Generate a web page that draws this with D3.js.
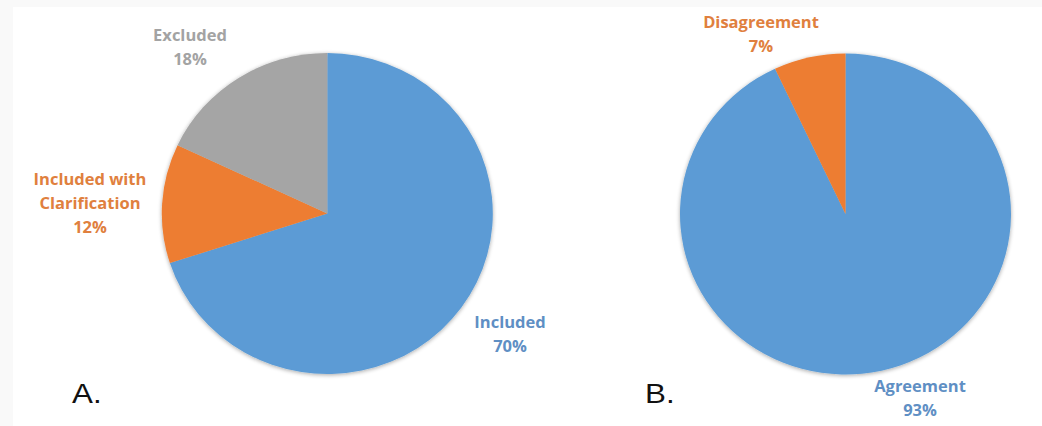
<!DOCTYPE html>
<html>
<head>
<meta charset="utf-8">
<script src="https://cdn.jsdelivr.net/npm/d3@7"></script>
<style>
  html, body { margin: 0; padding: 0; background: #ffffff; }
  svg { display: block; }
</style>
</head>
<body>
<div id="chart"></div>
<script>
// ---- Data ----
const pieACategories = ["Included", "Included with Clarification", "Excluded"];
const pieAValues = [70, 12, 18];
const pieBCategories = ["Agreement", "Disagreement"];
const pieBValues = [93, 7];
const panelLetters = ["A.", "B."];

// ---- Style / layout ----
const W = 1042, H = 426;
const colorMap = {
  "Included": "#5b9bd5", "Agreement": "#5b9bd5",
  "Included with Clarification": "#ed7d31", "Disagreement": "#ed7d31",
  "Excluded": "#a5a5a5"
};
const textColorMap = {
  "Included": "#5f8fc4", "Agreement": "#5f8fc4",
  "Included with Clarification": "#e0803e", "Disagreement": "#e0803e",
  "Excluded": "#a3a3a3"
};
// label anchor (center x, baseline of first line), and line breaks
const labelLayoutA = {
  "Included": { x: 510, y: 328, lines: ["Included"] },
  "Included with Clarification": { x: 90, y: 185, lines: ["Included with", "Clarification"] },
  "Excluded": { x: 190, y: 41, lines: ["Excluded"] }
};
const labelLayoutB = {
  "Agreement": { x: 920, y: 392, lines: ["Agreement"] },
  "Disagreement": { x: 761, y: 28, lines: ["Disagreement"] }
};

const svg = d3.select("#chart").append("svg")
  .attr("width", W).attr("height", H);

// background frame
svg.append("rect").attr("width", W).attr("height", H).attr("fill", "#f9f9f9");
svg.append("rect").attr("x", 13).attr("y", 7).attr("width", W - 13).attr("height", H - 7).attr("fill", "#ffffff");

const defs = svg.append("defs");
const f = defs.append("filter").attr("id", "soft").attr("x", "-10%").attr("y", "-10%").attr("width", "120%").attr("height", "120%");
f.append("feGaussianBlur").attr("in", "SourceAlpha").attr("stdDeviation", 2.2).attr("result", "b");
f.append("feOffset").attr("in", "b").attr("dx", 0).attr("dy", 1).attr("result", "o");
f.append("feComponentTransfer").attr("in", "o").attr("result", "s")
  .append("feFuncA").attr("type", "linear").attr("slope", 0.35);
const m = f.append("feMerge");
m.append("feMergeNode").attr("in", "s");
m.append("feMergeNode").attr("in", "SourceGraphic");

const pie = d3.pie().sort(null).value(d => d.value).startAngle(0).endAngle(2 * Math.PI);
const arc = d3.arc().innerRadius(0).outerRadius(165.5);

function drawPie(cx, cy, cats, vals, layout) {
  const data = cats.map((c, i) => ({ cat: c, value: vals[i] }));
  const g = svg.append("g")
    .attr("transform", `translate(${cx},${cy}) scale(1,0.97)`)
    .attr("filter", "url(#soft)");
  g.selectAll("path").data(pie(data)).join("path")
    .attr("d", arc)
    .attr("fill", d => colorMap[d.data.cat]);

  const total = d3.sum(vals);
  const fmt = d3.format(".0%");
  data.forEach(d => {
    const L = layout[d.cat];
    const lines = L.lines.concat([fmt(d.value / total)]);
    const t = svg.append("text")
      .attr("x", L.x).attr("y", L.y)
      .attr("text-anchor", "middle")
      .attr("font-family", "'Open Sans', sans-serif")
      .attr("font-weight", "bold")
      .attr("font-size", 16.5)
      .attr("fill", textColorMap[d.cat]);
    lines.forEach((ln, i) => {
      t.append("tspan").attr("x", L.x).attr("dy", i === 0 ? 0 : 24).text(ln);
    });
  });
}

drawPie(327.3, 213.5, pieACategories, pieAValues, labelLayoutA);
drawPie(845.5, 214, pieBCategories, pieBValues, labelLayoutB);

svg.selectAll("text.panel").data(panelLetters).join("text")
  .attr("class", "panel")
  .attr("x", (d, i) => i === 0 ? 72 : 645)
  .attr("y", 403)
  .attr("font-family", "'Liberation Sans', Arial, sans-serif")
  .attr("font-size", 28)
  .attr("transform", (d, i) => `translate(${i === 0 ? 72 : 645},0) scale(1.12,1) translate(${-(i === 0 ? 72 : 645)},0)`)
  .attr("fill", "#111")
  .text(d => d);
</script>
</body>
</html>
